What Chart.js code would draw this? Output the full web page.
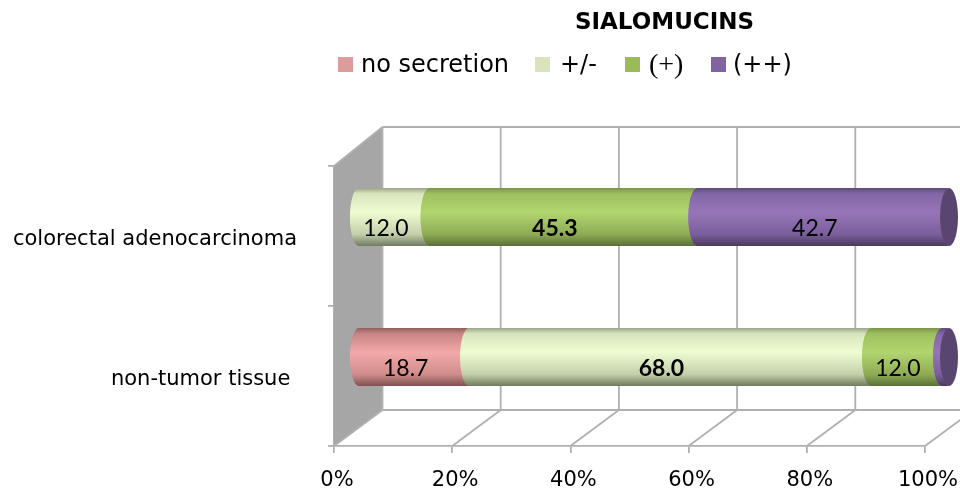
<!DOCTYPE html>
<html>
<head>
<meta charset="utf-8">
<style>html,body{margin:0;padding:0;background:#fff}canvas{display:block}</style>
<script src="https://cdn.jsdelivr.net/npm/chart.js@4"></script>
</head>
<body>
<canvas id="c" width="960" height="490"></canvas>
<script>
const titleText = 'SIALOMUCINS';
const categories = ['colorectal adenocarcinoma', 'non-tumor tissue'];
const noSecretion = [0, 18.7];
const plusMinus = [12.0, 68.0];
const plus = [45.3, 12.0];
const plusPlus = [42.7, 1.3];
const xTicks = [0, 20, 40, 60, 80, 100];

const legendColors = ['#dc9c9c', '#d7e4bc', '#9bbb59', '#8064a2'];
const shades = [
  ['#8f5f5f', '#c98585', '#f3a9a9', '#d08c8c', '#7f5050'],
  ['#9aa58a', '#d9e6bd', '#eefcd2', '#c3cfa9', '#707a60'],
  ['#7a9548', '#9fc05e', '#b1d56f', '#8fab54', '#58703a'],
  ['#5f4b7a', '#8267a6', '#9775b8', '#7a5f9c', '#4a3a5e']
];
const capColor = '#5a4570';
const gridColor = '#b0b0b0';
const wallColor = '#a6a6a6';
const DEPTH = {x: 48.5, topY: -39, botY: -36};
const BAR_SHIFT = {x: 24, y: -19};
const RX = 9;

// cylinder rendering of the library's own bar elements
Chart.BarElement.prototype.draw = function (ctx) {
  const p = this.getProps(['x', 'y', 'base', 'height']);
  const left = p.base + BAR_SHIFT.x, right = p.x + BAR_SHIFT.x;
  if (right - left < 0.5) return;
  const cy = p.y + BAR_SHIFT.y, h = p.height / 2;
  const g = ctx.createLinearGradient(0, cy - h, 0, cy + h);
  const s = shades[legendColors.indexOf(this.options.backgroundColor)];
  [0, 0.1, 0.42, 0.8, 1].forEach((t, i) => g.addColorStop(t, s[i]));
  ctx.save();
  ctx.beginPath();
  ctx.moveTo(left, cy - h);
  ctx.lineTo(right + 0.5, cy - h);
  ctx.ellipse(right + 0.5, cy, RX, h, 0, -Math.PI / 2, Math.PI / 2, true);
  ctx.lineTo(left, cy + h);
  ctx.ellipse(left, cy, RX, h, 0, Math.PI / 2, Math.PI * 1.5);
  ctx.closePath();
  ctx.fillStyle = g;
  ctx.fill();
  ctx.restore();
};

const scene = {
  id: 'scene',
  afterUpdate(chart) {
    chart.scales.y.getLabelItems().forEach(i => { i.options.translation[1] += 4; });
    chart.scales.x.getLabelItems().forEach(i => { i.options.translation[0] += 3; });
  },
  beforeDatasetsDraw(chart) {
    const {ctx, chartArea: a, scales: {x}} = chart;
    const bx = DEPTH.x, tb = a.top + DEPTH.topY, bb = a.bottom + DEPTH.botY;
    ctx.save();
    ctx.fillStyle = wallColor;
    ctx.beginPath();
    ctx.moveTo(a.left, a.top);
    ctx.lineTo(a.left + bx, tb);
    ctx.lineTo(a.left + bx, bb);
    ctx.lineTo(a.left, a.bottom);
    ctx.closePath();
    ctx.fill();
    ctx.strokeStyle = gridColor;
    ctx.lineWidth = 1.8;
    const line = (x1, y1, x2, y2) => { ctx.beginPath(); ctx.moveTo(x1, y1); ctx.lineTo(x2, y2); ctx.stroke(); };
    line(a.left, a.top, a.left + bx, tb);
    line(a.left + bx, tb, a.right + bx, tb);
    line(a.left + bx, bb, a.right + bx, bb);
    xTicks.forEach(t => {
      const px = x.getPixelForValue(t);
      line(px + bx, tb, px + bx, bb);
      line(px, a.bottom, px + bx, bb);
    });
    ctx.restore();
  },
  afterDatasetsDraw(chart) {
    const {ctx} = chart;
    const n = chart.data.datasets.length;
    ctx.save();
    // end caps
    chart.getDatasetMeta(n - 1).data.forEach(el => {
      const p = el.getProps(['x', 'y', 'height']);
      ctx.fillStyle = capColor;
      ctx.beginPath();
      ctx.ellipse(p.x + BAR_SHIFT.x, p.y + BAR_SHIFT.y, RX, p.height / 2, 0, 0, Math.PI * 2);
      ctx.fill();
    });
    // value labels
    ctx.fillStyle = '#000';
    ctx.textAlign = 'center';
    ctx.textBaseline = 'middle';
    categories.forEach((_, row) => {
      const vals = chart.data.datasets.map(d => d.data[row]);
      const top = Math.max(...vals);
      chart.data.datasets.forEach((d, i) => {
        const v = d.data[row];
        if (v < 5) return;
        const p = chart.getDatasetMeta(i).data[row].getProps(['x', 'y', 'base']);
        ctx.font = (v === top && v > 43 ? 'bold ' : '') + '23px Lato';
        ctx.fillText(v.toFixed(1), (p.x + p.base) / 2 + 16, p.y - 7);
      });
    });
    // title
    ctx.font = 'bold 23px "DejaVu Sans"';
    ctx.fillText(titleText, 664.5, 23);
    // legend
    ctx.textAlign = 'left';
    const swatchX = [338, 535, 625, 711], textX = [361, 560, 649, 733];
    const fonts = ['24px "DejaVu Sans"', '24px "DejaVu Sans"', '28px "Liberation Serif"', '24px "DejaVu Sans"'];
    chart.data.datasets.forEach((d, i) => {
      ctx.fillStyle = legendColors[i];
      ctx.fillRect(swatchX[i], 57, 15, 15);
      ctx.fillStyle = '#000';
      ctx.font = fonts[i];
      ctx.fillText(d.label, textX[i], 66);
    });
    ctx.restore();
  }
};

new Chart(document.getElementById('c'), {
  type: 'bar',
  data: {
    labels: categories,
    datasets: [
      {label: 'no secretion', data: noSecretion, backgroundColor: legendColors[0]},
      {label: '+/-', data: plusMinus, backgroundColor: legendColors[1]},
      {label: '(+)', data: plus, backgroundColor: legendColors[2]},
      {label: '(++)', data: plusPlus, backgroundColor: legendColors[3]}
    ].map(d => Object.assign(d, {barThickness: 58, clip: false}))
  },
  options: {
    indexAxis: 'y',
    responsive: false,
    animation: false,
    layout: {padding: {top: 166, right: 35, left: 0, bottom: 0}},
    plugins: {legend: {display: false}, title: {display: false}, tooltip: {enabled: false}},
    scales: {
      x: {
        stacked: true, min: 0, max: 100,
        afterFit(s) { s.height = 44; s.paddingRight = 0; s.paddingLeft = 0; },
        afterBuildTicks(s) { s.ticks = xTicks.map(v => ({value: v})); },
        ticks: {autoSkip: false, maxRotation: 0, color: '#000', padding: 15, font: {family: 'DejaVu Sans', size: 21},
          callback: v => v + '%'},
        grid: {drawOnChartArea: false, drawTicks: true, tickLength: 7, color: gridColor, lineWidth: 1.8},
        border: {color: gridColor, width: 1.8}
      },
      y: {
        stacked: true,
        afterFit(s) { s.width = 334; },
        ticks: {color: '#000', padding: 31, font: {family: 'DejaVu Sans', size: 21},
          callback(v, i) { return categories[i] + (i === 1 ? ' ' : ''); }},
        grid: {drawOnChartArea: false, drawTicks: true, tickLength: 6, color: gridColor, lineWidth: 1.8},
        border: {color: gridColor, width: 1.8}
      }
    }
  },
  plugins: [scene]
});
</script>
</body>
</html>
